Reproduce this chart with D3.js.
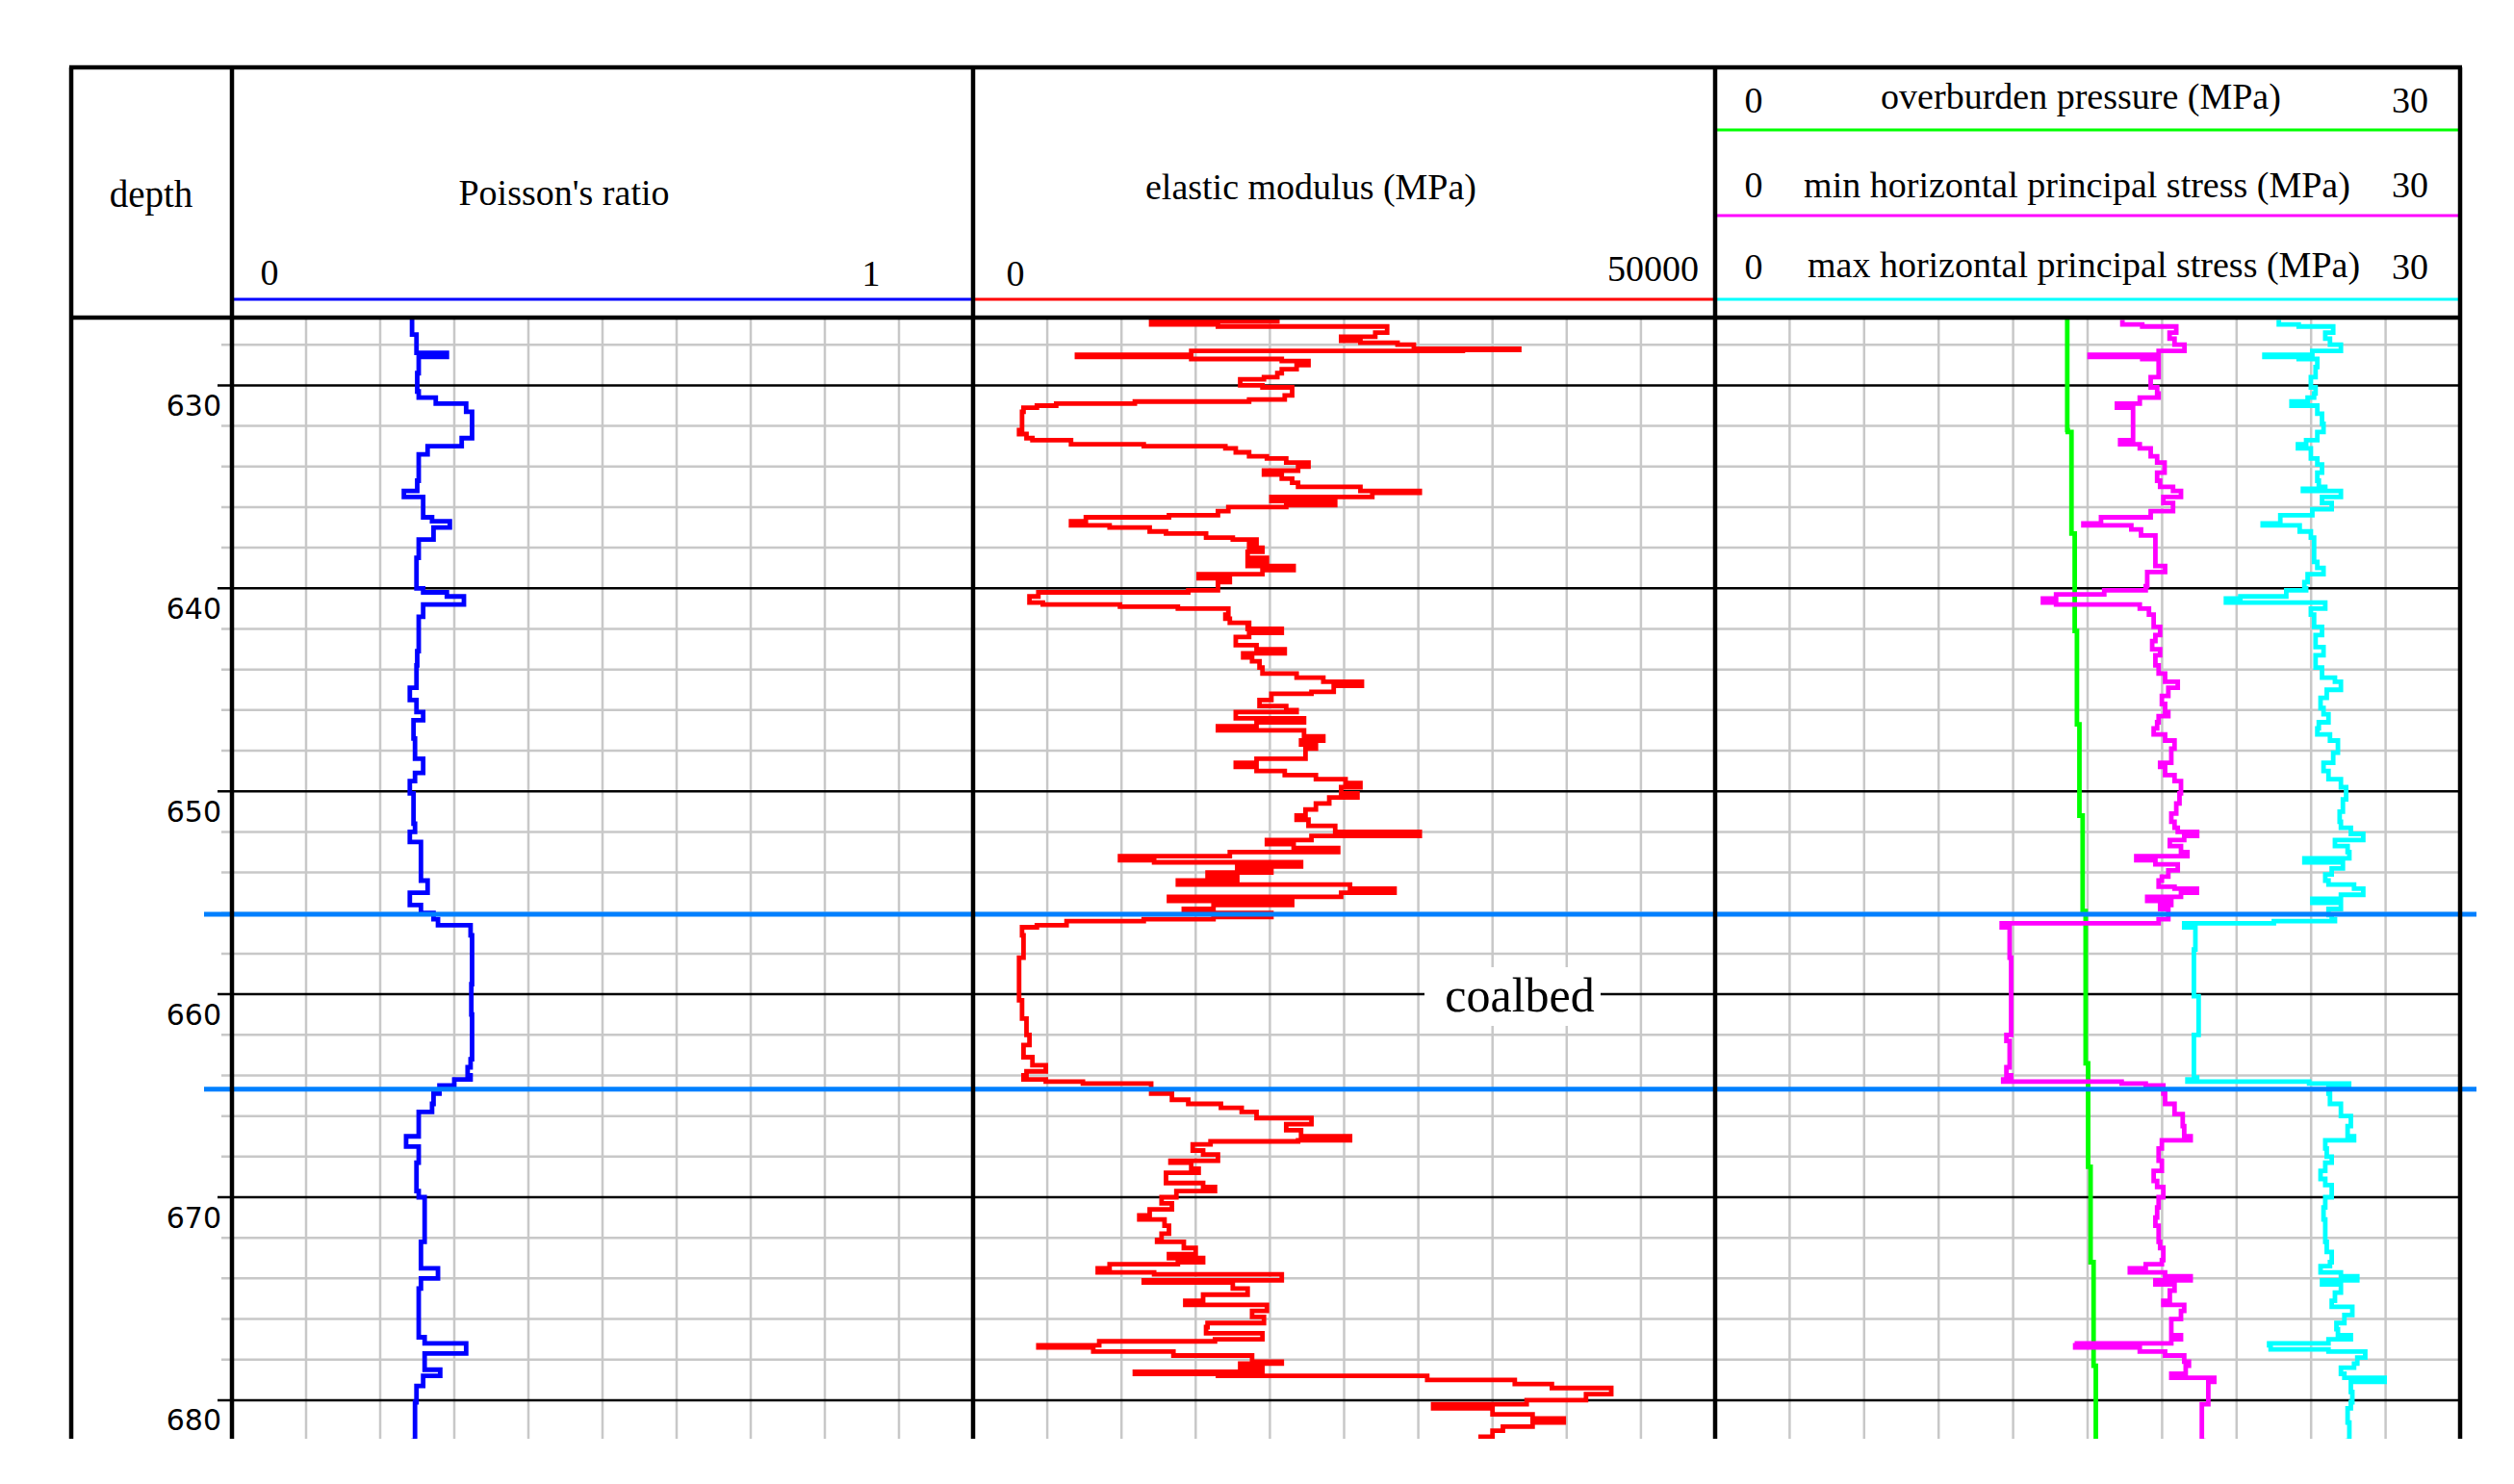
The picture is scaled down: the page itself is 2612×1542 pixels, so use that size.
<!DOCTYPE html>
<html>
<head>
<meta charset="utf-8">
<script src="https://cdn.jsdelivr.net/npm/d3@7"></script>
<style>
  html, body { margin: 0; padding: 0; background: #fff; }
  svg { display: block; }
  .serif { font-family: "Liberation Serif", "Times New Roman", serif; fill: #000; }
  .depthAxis text { font-family: "DejaVu Sans", sans-serif; font-size: 30px; fill: #000; }
</style>
</head>
<body>
<div id="chart"></div>
<script>
// ---- data (depth in m, value) ----
var majorDepths = [630, 640, 650, 660, 670, 680];
var minorDepths = [628, 632, 634, 636, 638, 642, 644, 646, 648, 652, 654, 656, 658, 662, 664, 666, 668, 672, 674, 676, 678, 682];

var poissonGrid = [0.1, 0.2, 0.3, 0.4, 0.5, 0.6, 0.7, 0.8, 0.9];
var modulusGrid = [5000, 10000, 15000, 20000, 25000, 30000, 35000, 40000, 45000];
var stressGrid = [3, 6, 9, 12, 15, 18, 21, 24, 27];

var coalTop = 656.06, coalBottom = 664.68;

var poisson = [
  [626.7,0.243],[627.5,0.249],[628.2,0.249],[628.4,0.29],[628.6,0.252],[629.4,0.25],[630.3,0.252],
  [630.6,0.275],[630.9,0.316],[631.3,0.324],[632.3,0.324],[632.6,0.31],[633.0,0.264],[633.4,0.252],
  [634.7,0.25],[635.2,0.232],[635.5,0.258],[636.1,0.258],[636.5,0.27],[636.7,0.294],[637.0,0.272],
  [637.6,0.252],[638.5,0.249],[639.7,0.249],[640.0,0.258],[640.2,0.29],[640.4,0.313],[640.8,0.258],
  [641.4,0.252],[643.1,0.25],[643.8,0.249],[644.9,0.24],[645.5,0.249],[646.1,0.258],[646.5,0.245],
  [647.4,0.247],[648.4,0.258],[649.1,0.247],[649.5,0.24],[650.1,0.245],[651.6,0.247],[652.0,0.24],
  [652.5,0.255],[653.9,0.255],[654.4,0.264],[655.0,0.24],[655.6,0.255],[656.0,0.272],[656.3,0.278],
  [656.6,0.322],[657.1,0.324],[659.5,0.323],[661.0,0.324],[663.2,0.322],[663.6,0.318],[664.0,0.322],
  [664.2,0.30],[664.5,0.28],[664.9,0.272],[665.4,0.27],[665.8,0.252],[666.5,0.252],[667.0,0.235],
  [667.5,0.252],[668.3,0.249],[669.7,0.252],[670.0,0.26],[671.7,0.26],[672.2,0.255],[673.1,0.255],
  [673.5,0.278],[674.0,0.255],[674.5,0.252],[676.3,0.252],[676.9,0.26],[677.2,0.316],[677.7,0.26],
  [678.5,0.281],[678.8,0.258],[679.3,0.249],[680.1,0.247],[682.0,0.245]
];

var modulus = [
  [626.7,20500],[626.85,12000],[627.0,16500],[627.1,27900],[627.4,27100],[627.6,24800],[627.8,26100],
  [627.9,28600],[628.0,29700],[628.2,36800],[628.25,33000],[628.3,14700],[628.5,7000],[628.6,14700],
  [628.7,20800],[628.8,22600],[629.0,21800],[629.2,20800],[629.4,20500],[629.6,19600],[629.7,18000],
  [629.8,18000],[630.0,19500],[630.1,21500],[630.2,21500],[630.5,21000],[630.7,18600],[630.8,10900],
  [630.9,5600],[631.0,4300],[631.1,3400],[631.3,3300],[632.0,3300],[632.2,3100],[632.4,3600],
  [632.6,4000],[632.7,6600],[632.9,11500],[633.0,17000],[633.1,17700],[633.3,18600],[633.5,19800],
  [633.6,21100],[633.8,22600],[634.0,21900],[634.2,19600],[634.4,20800],[634.6,21500],[634.8,21900],
  [635.0,26100],[635.2,30100],[635.3,26900],[635.5,20100],[635.7,24400],[635.9,21100],[636.0,17200],
  [636.2,16500],[636.4,13200],[636.5,7600],[636.7,6600],[636.9,9200],[637.0,11900],[637.2,13000],
  [637.3,15700],[637.5,17500],[637.6,19100],[637.8,18600],[638.0,19500],[638.2,18500],[638.5,19800],
  [638.7,18500],[638.9,21600],[639.1,19500],[639.3,15200],[639.5,17300],[639.7,16500],[639.9,16500],
  [640.1,14500],[640.2,4400],[640.4,3800],[640.7,4700],[640.8,9900],[640.9,13800],[641.0,17200],
  [641.3,17000],[641.5,17300],[641.7,18600],[641.9,18500],[642.0,20800],[642.2,18600],[642.4,17700],
  [642.6,17700],[642.8,19100],[643.0,21000],[643.2,18200],[643.4,18800],[643.6,19300],[643.9,19500],
  [644.2,21800],[644.4,23600],[644.6,26200],[644.8,24300],[645.1,22800],[645.2,20100],[645.5,19300],
  [645.8,21100],[646.0,21800],[646.1,17700],[646.4,22300],[646.6,19100],[646.8,16500],[647.0,22300],
  [647.3,23600],[647.5,22100],[647.7,23100],[647.9,22400],[648.2,22400],[648.4,19100],[648.6,17700],
  [648.8,19100],[649.0,21000],[649.2,23100],[649.4,25100],[649.6,26100],[649.8,24800],[650.1,25900],
  [650.3,24000],[650.6,23100],[650.9,22400],[651.2,21800],[651.4,22600],[651.7,24400],[652.0,30100],
  [652.2,22800],[652.4,19800],[652.6,21600],[652.8,24600],[653.0,17300],[653.2,9900],[653.4,12200],
  [653.5,22100],[653.7,17800],[653.9,20100],[654.0,15800],[654.2,17800],[654.4,13800],[654.6,25400],
  [654.8,28400],[655.0,24800],[655.2,13200],[655.4,21500],[655.6,16200],[655.8,14200],[656.0,20100],
  [656.2,16200],[656.3,11500],[656.4,6300],[656.6,4300],[656.7,3300],[657.1,3400],[658.0,3400],
  [658.2,3100],[660.0,3100],[660.3,3300],[660.9,3300],[661.2,3600],[662.0,3800],[662.5,3400],
  [663.1,4000],[663.5,4900],[663.8,3600],[664.0,3400],[664.2,4900],[664.3,7400],[664.4,12000],
  [664.9,13400],[665.2,14500],[665.4,16700],[665.6,18100],[665.8,19100],[666.1,22800],[666.4,21100],
  [666.7,22100],[667.0,25400],[667.2,21900],[667.25,16000],[667.4,14800],[667.7,15500],[667.9,16500],
  [668.2,13300],[668.3,14700],[668.6,15200],[668.8,13000],[669.2,13000],[669.3,15500],[669.5,16300],
  [669.7,13700],[670.0,12700],[670.3,13400],[670.6,11900],[670.9,11200],[671.1,12900],[671.4,13200],
  [671.8,12700],[672.1,12400],[672.2,14200],[672.5,15000],[672.8,13200],[673.0,15500],[673.2,13800],
  [673.3,9200],[673.5,8400],[673.7,12200],[673.8,20800],[674.1,11500],[674.2,17500],[674.5,18500],
  [674.8,15500],[675.1,14300],[675.3,19800],[675.6,18800],[675.9,19600],[676.2,15800],[676.4,15700],
  [676.7,19500],[677.0,16300],[677.1,8500],[677.3,4400],[677.4,8100],[677.6,13500],[677.8,18800],
  [678.1,20800],[678.2,18000],[678.4,19500],[678.6,10900],[678.7,16500],[678.8,30600],[679.0,36500],
  [679.2,39000],[679.4,43000],[679.7,41300],[680.0,37300],[680.2,31000],[680.4,35000],[680.7,37700],
  [680.9,39800],[681.1,37700],[681.3,35700],[681.5,35000],[681.8,34200],[682.0,34400]
];

var overburden = [
  [626.7,14.18],[632.2,14.2],[632.3,14.35],[637.2,14.35],[637.3,14.48],[642.0,14.48],[642.1,14.57],
  [646.6,14.57],[646.7,14.67],[651.1,14.67],[651.2,14.8],[655.8,14.8],[655.9,14.92],[663.3,14.92],
  [663.4,15.02],[668.4,15.02],[668.5,15.12],[673.1,15.12],[673.2,15.24],[678.2,15.24],[678.3,15.33],
  [682.0,15.33]
];

var minStress = [
  [626.9,16.4],[627.0,17.2],[627.1,18.57],[627.4,18.3],[627.7,18.5],[628.0,18.9],[628.3,17.86],
  [628.5,15.08],[628.6,17.2],[628.7,17.86],[629.1,17.86],[629.6,17.54],[630.1,17.8],[630.4,17.86],
  [630.6,17.1],[630.9,16.18],[631.1,16.83],[632.5,16.83],[632.7,16.31],[632.9,17.1],[633.1,17.54],
  [633.5,17.8],[633.8,18.1],[634.3,17.8],[634.7,17.92],[635.0,18.44],[635.2,18.76],[635.5,18.05],
  [635.8,18.44],[636.2,17.54],[636.5,15.54],[636.8,14.83],[636.9,16.76],[637.1,17.15],[637.4,17.73],
  [638.7,17.73],[638.9,18.12],[639.2,17.4],[639.9,17.34],[640.1,15.67],[640.3,13.73],[640.5,13.2],
  [640.7,13.73],[640.8,17.1],[641.0,17.47],[641.3,17.66],[641.9,17.92],[642.3,17.73],[642.6,17.6],
  [643.0,17.92],[643.3,17.73],[643.8,17.86],[644.2,18.12],[644.6,18.63],[644.9,18.25],[645.3,17.99],
  [645.7,18.12],[646.1,18.25],[646.3,17.86],[646.6,17.8],[646.9,17.66],[647.2,18.12],[647.5,18.5],
  [647.9,18.37],[648.2,18.37],[648.6,17.92],[648.8,18.12],[649.2,18.5],[649.5,18.76],[649.8,18.76],
  [650.1,18.7],[650.6,18.57],[651.1,18.37],[651.5,18.5],[651.8,18.63],[652.0,19.41],[652.2,18.89],
  [652.4,18.31],[652.7,18.76],[653.0,19.02],[653.2,16.96],[653.4,17.73],[653.6,18.63],[653.9,18.25],
  [654.2,17.99],[654.4,17.86],[654.7,18.5],[654.8,19.4],[655.0,18.76],[655.2,17.4],[655.4,18.37],
  [655.6,17.92],[655.8,18.25],[656.1,18.25],[656.3,17.86],[656.5,11.54],[656.7,11.86],[658.0,11.86],
  [658.2,11.92],[661.1,11.92],[662.0,11.73],[662.3,11.86],[663.4,11.86],[663.6,11.73],[664.0,11.92],
  [664.2,11.6],[664.3,16.37],[664.4,17.34],[664.5,18.05],[664.9,18.12],[665.4,18.5],[665.9,18.83],
  [666.5,18.89],[667.0,19.15],[667.2,17.99],[667.6,17.86],[668.2,17.99],[668.7,17.66],[669.2,17.8],
  [669.5,18.05],[670.0,17.86],[670.5,17.8],[671.0,17.73],[671.4,17.86],[672.2,17.92],[672.5,18.05],
  [673.1,17.99],[673.3,17.34],[673.5,16.7],[673.7,18.12],[673.9,19.15],[674.1,17.73],[674.3,18.5],
  [674.6,18.31],[675.1,18.05],[675.3,18.89],[675.6,18.76],[676.0,18.37],[676.4,18.37],[676.8,18.76],
  [677.0,18.37],[677.2,14.57],[677.3,14.5],[677.4,17.1],[677.6,18.12],[677.8,18.89],[678.1,19.08],
  [678.3,18.95],[678.7,18.37],[678.9,20.1],[679.1,19.86],[680.1,19.86],[680.2,19.6],[682.0,19.66]
];

var maxStress = [
  [626.9,22.7],[627.0,23.5],[627.1,24.89],[627.4,24.57],[627.7,24.76],[628.0,25.2],[628.3,24.05],
  [628.5,22.12],[628.6,23.5],[628.7,24.25],[629.1,24.18],[629.6,23.99],[630.1,24.18],[630.4,24.12],
  [630.6,23.86],[630.8,23.21],[631.0,24.25],[631.4,24.44],[631.9,24.5],[632.3,24.25],[632.7,23.8],
  [632.9,23.47],[633.1,23.99],[633.6,24.25],[633.9,24.44],[634.3,24.25],[634.7,24.31],[635.0,24.57],
  [635.1,23.67],[635.2,25.2],[635.5,24.44],[635.8,24.83],[636.1,24.05],[636.4,22.76],[636.8,22.05],
  [636.9,23.54],[637.2,23.99],[637.5,24.12],[638.7,24.25],[639.0,24.5],[639.3,23.86],[639.7,23.73],
  [640.0,23.8],[640.1,23.0],[640.4,21.15],[640.5,20.57],[640.7,24.57],[641.0,23.99],[641.3,24.12],
  [641.9,24.44],[642.3,24.18],[642.9,24.5],[643.3,24.18],[643.9,24.44],[644.4,24.96],[644.6,25.2],
  [645.0,24.63],[645.4,24.38],[645.9,24.5],[646.2,24.7],[646.6,24.31],[646.9,24.25],[647.2,24.76],
  [647.5,25.08],[648.1,24.89],[648.6,24.5],[649.0,24.7],[649.4,25.2],[649.8,25.41],[650.4,25.28],
  [651.0,25.15],[651.5,25.2],[651.8,25.6],[652.1,26.1],[652.4,24.96],[652.7,25.47],[653.0,25.54],
  [653.3,23.73],[653.5,25.28],[653.8,24.83],[654.1,24.57],[654.4,24.7],[654.6,25.73],[654.8,26.1],
  [655.1,25.2],[655.3,24.05],[655.5,25.2],[655.8,24.7],[656.1,24.83],[656.3,24.96],[656.4,22.5],
  [656.5,18.89],[656.7,19.34],[657.8,19.28],[660.1,19.47],[662.0,19.28],[663.6,19.28],[664.1,19.41],
  [664.2,19.02],[664.3,23.92],[664.4,25.53],[664.6,24.7],[664.9,24.76],[665.4,25.2],[666.0,25.6],
  [666.5,25.47],[667.0,25.73],[667.2,24.57],[667.6,24.63],[668.0,24.83],[668.3,24.57],[668.7,24.38],
  [669.1,24.57],[669.4,24.83],[670.0,24.57],[670.5,24.5],[671.1,24.57],[671.6,24.57],[672.2,24.63],
  [672.7,24.83],[673.2,24.76],[673.4,24.38],[673.7,25.2],[673.9,25.86],[674.1,24.44],[674.3,25.2],
  [674.7,24.96],[675.1,24.83],[675.4,25.66],[675.8,25.34],[676.2,25.02],[676.5,25.08],[676.8,25.6],
  [677.0,24.7],[677.2,22.31],[677.3,22.37],[677.5,24.7],[677.6,26.18],[677.9,25.86],[678.2,25.73],
  [678.4,25.2],[678.7,25.34],[678.9,26.96],[679.1,25.6],[679.6,25.66],[680.1,25.6],[680.4,25.47],
  [681.1,25.54],[682.0,25.47]
];

// ---- layout ----
var width = 2612, height = 1542;
var frameLeft = 74, frameRight = 2556, frameTop = 70, headBottom = 330, frameBottom = 1495;
var dividers = [241, 1011, 1782];

var svg = d3.select("#chart").append("svg")
    .attr("width", width)
    .attr("height", height);

var y = d3.scaleLinear().domain([630, 680]).range([400.4, 1454.9]);
var xPois = d3.scaleLinear().domain([0, 1]).range([241, 1011]);
var xMod = d3.scaleLinear().domain([0, 50000]).range([1011, 1782]);
var xStress = d3.scaleLinear().domain([0, 30]).range([1782, 2556]);

svg.append("defs").append("clipPath").attr("id", "plotClip")
  .append("rect")
    .attr("x", 241).attr("y", headBottom + 2)
    .attr("width", frameRight - 241).attr("height", frameBottom - headBottom - 2);

// gray grid
var grid = svg.append("g").attr("stroke", "#c8c8c8").attr("stroke-width", 2.5);

grid.selectAll(".minor")
    .data(minorDepths.filter(function(d) { return y(d) < frameBottom; }))
    .enter().append("line")
    .attr("x1", 230).attr("x2", frameRight)
    .attr("y1", function(d) { return y(d); })
    .attr("y2", function(d) { return y(d); });

function vGrid(values, scale) {
  grid.selectAll(null)
      .data(values)
      .enter().append("line")
      .attr("x1", function(d) { return scale(d); })
      .attr("x2", function(d) { return scale(d); })
      .attr("y1", headBottom).attr("y2", frameBottom);
}
vGrid(poissonGrid, xPois);
vGrid(modulusGrid, xMod);
vGrid(stressGrid, xStress);

// major depth lines
svg.append("g").selectAll("line")
    .data(majorDepths)
    .enter().append("line")
    .attr("x1", 226).attr("x2", frameRight)
    .attr("y1", function(d) { return y(d); })
    .attr("y2", function(d) { return y(d); })
    .attr("stroke", "#000")
    .attr("stroke-width", 2.5);

// depth labels
var depthAxis = d3.axisLeft(y)
    .tickValues(majorDepths)
    .tickSize(0)
    .tickPadding(11)
    .tickFormat(d3.format("d"));

var gAxis = svg.append("g")
    .attr("class", "depthAxis")
    .attr("transform", "translate(241,0)")
    .call(depthAxis);
gAxis.select(".domain").remove();
gAxis.selectAll("text").attr("dy", 31).attr("font-size", null).attr("font-family", null);

// coalbed label box
svg.append("rect")
    .attr("x", 1480).attr("y", 1005)
    .attr("width", 183).attr("height", 61)
    .attr("fill", "#fff");
svg.append("text")
    .attr("class", "serif")
    .attr("x", 1579).attr("y", 1051)
    .attr("text-anchor", "middle")
    .style("font-size", "50px")
    .text("coalbed");

// curves
var plot = svg.append("g").attr("clip-path", "url(#plotClip)");

function drawCurve(data, scale, color) {
  var line = d3.line()
      .x(function(d) { return scale(d[1]); })
      .y(function(d) { return y(d[0]); })
      .curve(d3.curveStepBefore);
  plot.append("path")
      .datum(data)
      .attr("d", line)
      .attr("fill", "none")
      .attr("stroke", color)
      .attr("stroke-width", 4.8)
      .attr("stroke-linejoin", "miter")
      .attr("stroke-linecap", "square");
}
drawCurve(poisson, xPois, "#0000ff");
drawCurve(modulus, xMod, "#ff0000");
drawCurve(overburden, xStress, "#00ff00");
drawCurve(minStress, xStress, "#ff00ff");
drawCurve(maxStress, xStress, "#00ffff");

// coalbed boundaries
svg.append("g").selectAll("line")
    .data([coalTop, coalBottom])
    .enter().append("line")
    .attr("x1", 212).attr("x2", 2573)
    .attr("y1", function(d) { return y(d); })
    .attr("y2", function(d) { return y(d); })
    .attr("stroke", "#0080ff")
    .attr("stroke-width", 5);

// header
function headText(x, yy, txt, anchor, size) {
  svg.append("text")
      .attr("class", "serif")
      .attr("x", x).attr("y", yy)
      .attr("text-anchor", anchor || "middle")
      .style("font-size", (size || 38) + "px")
      .text(txt);
}
function headLine(x1, x2, yy, color) {
  svg.append("line")
      .attr("x1", x1).attr("x2", x2)
      .attr("y1", yy).attr("y2", yy)
      .attr("stroke", color)
      .attr("stroke-width", 3);
}

headText(157, 215, "depth", "middle", 39);

headText(586, 213, "Poisson's ratio");
headText(xPois(0) + 39, 296, "0");
headText(xPois(1) - 106, 297, "1");
headLine(243, 1009, 311, "#0000ff");

headText(1362, 207, "elastic modulus (MPa)");
headText(xMod(0) + 44, 297, "0");
headText(1765, 292, "50000", "end");
headLine(1013, 1780, 311, "#ff0000");

var stressRows = [
  {label: "overburden pressure (MPa)", cx: 2162, base: 113, num: 117, line: 135, color: "#00ff00"},
  {label: "min horizontal principal stress (MPa)", cx: 2158, base: 205, num: 205, line: 224, color: "#ff00ff"},
  {label: "max horizontal principal stress (MPa)", cx: 2165, base: 288, num: 290, line: 311, color: "#00ffff"}
];
stressRows.forEach(function(r) {
  headText(r.cx, r.base, r.label);
  headText(1822, r.num, "0");
  headText(2504, r.num, "30");
  headLine(1784, 2554, r.line, r.color);
});

// frame
var frame = svg.append("g").attr("stroke", "#000").attr("stroke-width", 4.5);
frame.append("line").attr("x1", frameLeft - 2).attr("x2", frameRight + 2).attr("y1", frameTop).attr("y2", frameTop);
frame.append("line").attr("x1", frameLeft).attr("x2", frameRight).attr("y1", headBottom).attr("y2", headBottom);
frame.append("line").attr("x1", frameLeft).attr("x2", frameLeft).attr("y1", frameTop).attr("y2", frameBottom);
frame.append("line").attr("x1", frameRight).attr("x2", frameRight).attr("y1", frameTop).attr("y2", frameBottom);
frame.selectAll(".div")
    .data(dividers)
    .enter().append("line")
    .attr("x1", function(d) { return d; })
    .attr("x2", function(d) { return d; })
    .attr("y1", frameTop).attr("y2", frameBottom);
</script>
</body>
</html>
